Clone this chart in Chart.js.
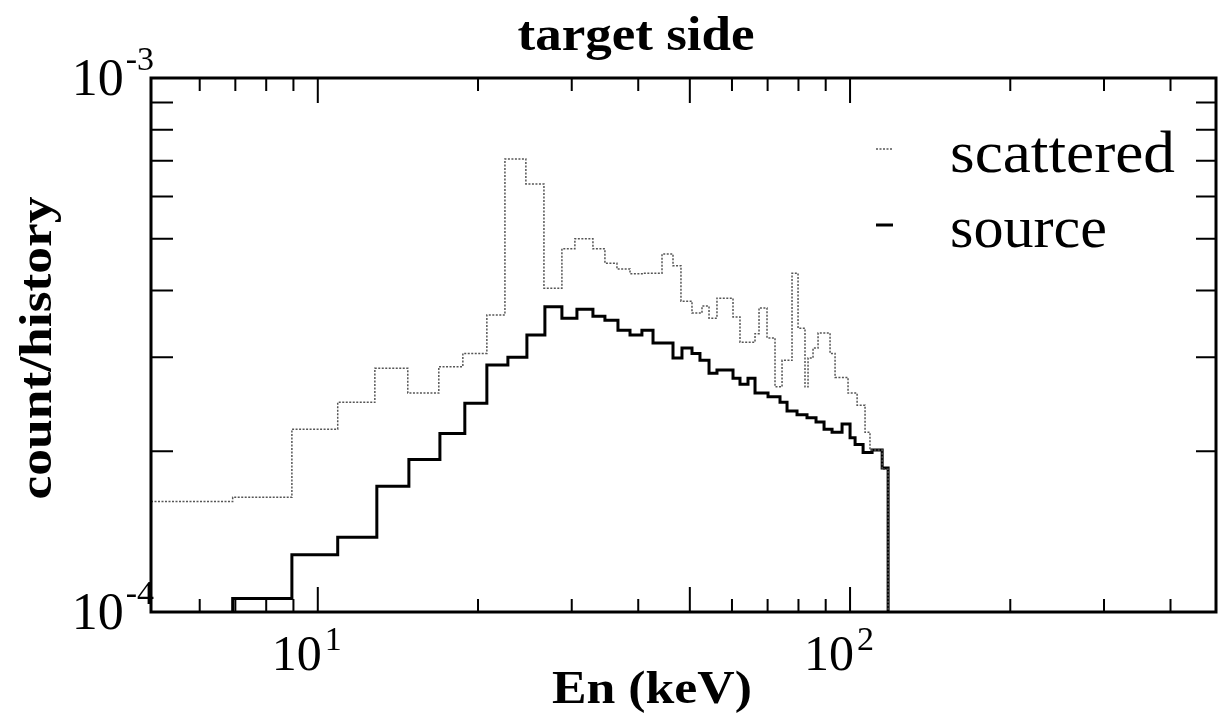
<!DOCTYPE html>
<html>
<head>
<meta charset="utf-8">
<title>target side</title>
<script src="https://cdn.jsdelivr.net/npm/chart.js@4.4.1/dist/chart.umd.min.js"></script>
<style>
  html, body { margin: 0; padding: 0; background: #fff; }
  #wrap { width: 1219px; height: 718px; }
</style>
</head>
<body>
<div id="wrap"><canvas id="chart" width="1219" height="718"></canvas></div>
<script>
// Histogram bin left edges (keV) and count/history per bin.
// The last entry of each series is below the axis floor so the step drops out of view.
const scatteredEdges = [4.86, 6.92, 8.94, 10.9, 12.8, 14.76, 16.88, 18.73, 20.78, 22.47, 24.6, 26.6,
  28.75, 30.41, 32.88, 34.63, 36.48, 38.6, 40.82, 44.33, 46.49, 48.12, 50.47, 52.7, 54.33, 56.23,
  60.27, 62.12, 66.29, 67.45, 69.82, 72.28, 74.51, 77.8, 79.85, 82.29, 83.38, 85.2, 87.07, 91.71,
  93.72, 99.13, 103.1, 106.7, 109.0, 114.9, 117.9]
const scatteredCounts = [1.61e-4, 1.64e-4, 2.20e-4, 2.47e-4, 2.86e-4, 2.57e-4, 2.88e-4, 3.05e-4,
  3.60e-4, 7.05e-4, 6.33e-4, 4.04e-4, 4.79e-4, 5.00e-4, 4.79e-4, 4.50e-4, 4.39e-4, 4.30e-4,
  4.31e-4, 4.68e-4, 4.45e-4, 3.82e-4, 3.63e-4, 3.74e-4, 3.55e-4, 3.87e-4, 3.57e-4, 3.20e-4,
  3.32e-4, 3.71e-4, 3.26e-4, 2.64e-4, 2.96e-4, 4.31e-4, 3.40e-4, 2.64e-4, 2.99e-4, 3.12e-4,
  3.33e-4, 3.05e-4, 2.75e-4, 2.57e-4, 2.44e-4, 2.17e-4, 2.01e-4, 1.85e-4, 0.5e-4]

const sourceEdges = [4.86, 6.92, 8.94, 10.9, 12.91, 14.83, 16.96, 18.89, 20.78, 22.76, 24.71, 26.71,
  28.75, 30.68, 32.88, 34.63, 36.64, 38.6, 40.64, 42.64, 46.49, 48.33, 50.47, 52.24, 54.33, 56.23,
  60.27, 62.12, 64.31, 66.29, 70.13, 73.86, 76.14, 79.5, 83.01, 86.31, 89.36, 92.51, 96.6, 100,
  102.2, 105.8, 110, 114.9, 117.9]
const sourceCounts = [0.5e-4, 1.06e-4, 1.28e-4, 1.38e-4, 1.72e-4, 1.93e-4, 2.16e-4, 2.46e-4,
  2.90e-4, 3.00e-4, 3.30e-4, 3.73e-4, 3.55e-4, 3.69e-4, 3.58e-4, 3.52e-4, 3.37e-4, 3.30e-4,
  3.37e-4, 3.19e-4, 2.99e-4, 3.12e-4, 3.05e-4, 2.96e-4, 2.80e-4, 2.84e-4, 2.74e-4, 2.67e-4,
  2.74e-4, 2.57e-4, 2.53e-4, 2.47e-4, 2.38e-4, 2.34e-4, 2.31e-4, 2.27e-4, 2.20e-4, 2.17e-4,
  2.25e-4, 2.12e-4, 2.06e-4, 1.99e-4, 2.01e-4, 1.86e-4, 0.5e-4]

// Axis ticks
const xMin = 4.86
const xMax = 487
const xMajorTicks = [10, 50, 100]
const xMinorTicks = [6, 7, 8, 9, 20, 30, 40, 60, 70, 80, 90, 200, 300, 400]
const xLabelValues = [10, 100]
const xLabelExps = ['1', '2']
const yMin = 1e-4
const yMax = 1e-3
const yMinorTicks = [2e-4, 3e-4, 4e-4, 5e-4, 6e-4, 7e-4, 8e-4, 9e-4]
const yLabelValues = [1e-4, 1e-3]
const yLabelExps = ['-4', '-3']

const serif = '"Liberation Serif", "Times New Roman", "DejaVu Serif", serif'

function toPoints(edges, counts) {
  return edges.map((e, i) => ({ x: e, y: counts[i] }))
}

// draw text squeezed/stretched to a given width (the scan is slightly stretched)
function fitText(ctx, text, x, y, font, width, align, angle) {
  ctx.save()
  ctx.font = font
  const w = ctx.measureText(text).width
  ctx.translate(x, y)
  if (angle) ctx.rotate(angle)
  ctx.scale(width / w, 1)
  ctx.textAlign = align
  ctx.textBaseline = 'alphabetic'
  ctx.fillText(text, 0, 0)
  ctx.restore()
}

const framePlugin = {
  id: 'frame',
  afterDatasetsDraw(chart) {
    const { ctx, chartArea: a } = chart
    const xs = chart.scales.x
    const ys = chart.scales.y
    ctx.save()
    ctx.strokeStyle = '#000'
    ctx.fillStyle = '#000'

    // ticks, pointing inward on all four sides
    ctx.lineWidth = 2
    ctx.beginPath()
    xMajorTicks.forEach((v) => {
      const px = xs.getPixelForValue(v)
      ctx.moveTo(px, a.bottom); ctx.lineTo(px, a.bottom - 25)
      ctx.moveTo(px, a.top); ctx.lineTo(px, a.top + 25)
    })
    xMinorTicks.forEach((v) => {
      const px = xs.getPixelForValue(v)
      ctx.moveTo(px, a.bottom); ctx.lineTo(px, a.bottom - 13)
      ctx.moveTo(px, a.top); ctx.lineTo(px, a.top + 13)
    })
    yMinorTicks.forEach((v) => {
      const py = ys.getPixelForValue(v)
      ctx.moveTo(a.left, py); ctx.lineTo(a.left + 22, py)
      ctx.moveTo(a.right, py); ctx.lineTo(a.right - 20, py)
    })
    ctx.stroke()

    // frame
    ctx.lineWidth = 3
    ctx.strokeRect(a.left, a.top, a.right - a.left, a.bottom - a.top)

    // y tick labels 10^-4, 10^-3
    ctx.textBaseline = 'alphabetic'
    yLabelValues.forEach((v, i) => {
      const py = ys.getPixelForValue(v)
      ctx.font = '34px ' + serif
      ctx.textAlign = 'right'
      const expW = ctx.measureText(yLabelExps[i]).width
      ctx.fillText(yLabelExps[i], a.left + 3, py - 8)
      ctx.font = '52px ' + serif
      ctx.fillText('10', a.left + 1 - expW, py + 17)
    })

    // x tick labels 10^1, 10^2
    xLabelValues.forEach((v, i) => {
      const px = xs.getPixelForValue(v)
      ctx.font = '50px ' + serif
      ctx.textAlign = 'right'
      ctx.fillText('10', px + 4, 670)
      ctx.font = '34px ' + serif
      ctx.textAlign = 'left'
      ctx.fillText(xLabelExps[i], px + 7, 650)
    })

    // titles
    fitText(ctx, 'target side', 636, 50, 'bold 48px ' + serif, 237, 'center')
    fitText(ctx, 'En (keV)', 652, 703, 'bold 46px ' + serif, 200, 'center')
    fitText(ctx, 'count/history', 51, 348, 'bold 46px ' + serif, 303, 'center', -Math.PI / 2)

    // legend
    const ds = chart.data.datasets
    const legendRows = [
      { sampleY: 149, textY: 172, width: 225 },
      { sampleY: 225, textY: 247, width: 157 }
    ]
    ds.forEach((d, i) => {
      const row = legendRows[i]
      ctx.save()
      ctx.strokeStyle = d.borderColor
      ctx.lineWidth = d.borderWidth
      ctx.setLineDash(d.borderDash || [])
      ctx.beginPath()
      ctx.moveTo(876, row.sampleY)
      ctx.lineTo(893, row.sampleY)
      ctx.stroke()
      ctx.restore()
      fitText(ctx, d.label, 950, row.textY, '60px ' + serif, row.width, 'left')
    })
    ctx.restore()
  }
}

new Chart(document.getElementById('chart'), {
  type: 'line',
  data: {
    datasets: [
      {
        label: 'scattered',
        data: toPoints(scatteredEdges, scatteredCounts),
        borderColor: '#555',
        borderWidth: 1.5,
        borderDash: [2, 1.5],
        stepped: 'before',
        pointRadius: 0,
        fill: false
      },
      {
        label: 'source',
        data: toPoints(sourceEdges, sourceCounts),
        borderColor: '#000',
        borderWidth: 3,
        stepped: 'before',
        pointRadius: 0,
        fill: false
      }
    ]
  },
  options: {
    responsive: false,
    animation: false,
    layout: {
      padding: { left: 151, right: 3, top: 78, bottom: 106 }
    },
    scales: {
      x: { type: 'logarithmic', min: xMin, max: xMax, display: false },
      y: { type: 'logarithmic', min: yMin, max: yMax, display: false }
    },
    plugins: {
      legend: { display: false },
      title: { display: false },
      tooltip: { enabled: false }
    }
  },
  plugins: [framePlugin]
})
</script>
</body>
</html>
